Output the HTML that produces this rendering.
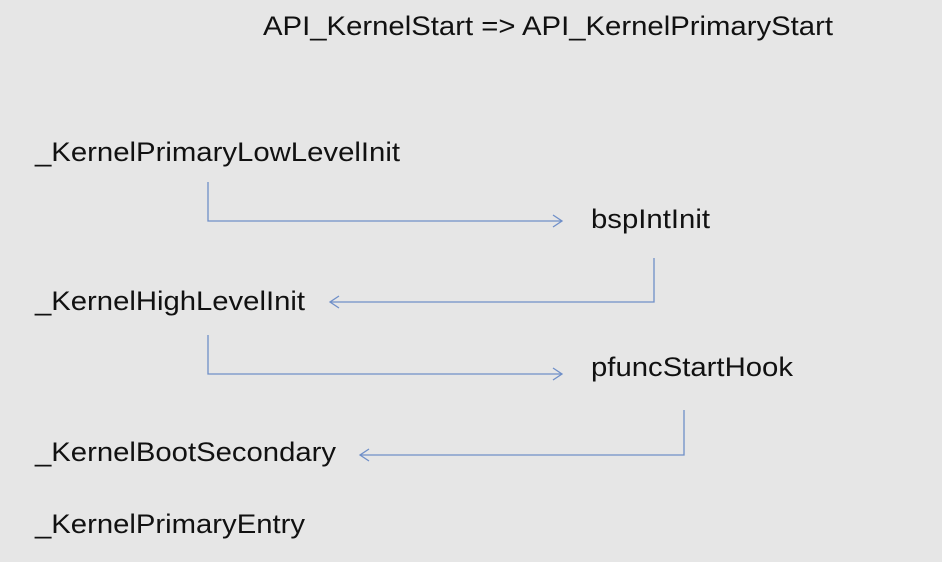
<!DOCTYPE html>
<html><head><style>
html,body{margin:0;padding:0;background:#e6e6e6;}
svg{display:block}
text{font-family:"Liberation Sans",Arial,sans-serif;font-size:27px;fill:#111;}
</style></head><body>
<svg width="942" height="562" viewBox="0 0 942 562">
<rect width="942" height="562" fill="#e6e6e6"/>
<text x="263" y="35" textLength="570" lengthAdjust="spacingAndGlyphs">API_KernelStart =&gt; API_KernelPrimaryStart</text>
<text x="35" y="161" textLength="365" lengthAdjust="spacingAndGlyphs">_KernelPrimaryLowLevelInit</text>
<text x="591" y="228" textLength="119" lengthAdjust="spacingAndGlyphs">bspIntInit</text>
<text x="35" y="310" textLength="270" lengthAdjust="spacingAndGlyphs">_KernelHighLevelInit</text>
<text x="591" y="376" textLength="202" lengthAdjust="spacingAndGlyphs">pfuncStartHook</text>
<text x="35" y="461" textLength="301" lengthAdjust="spacingAndGlyphs">_KernelBootSecondary</text>
<text x="35" y="533" textLength="270" lengthAdjust="spacingAndGlyphs">_KernelPrimaryEntry</text>
<g fill="none" stroke="#6f8fc8" stroke-width="1.3">
<polyline points="208,182 208,221 562,221"/>
<polyline points="553,215 562,221 553,227"/>
<polyline points="654,258 654,302 330,302"/>
<polyline points="339,296 330,302 339,308"/>
<polyline points="208,335 208,374 562,374"/>
<polyline points="553,368 562,374 553,380"/>
<polyline points="684,410 684,455 360,455"/>
<polyline points="369,449 360,455 369,461"/>
</g>
</svg>
</body></html>
